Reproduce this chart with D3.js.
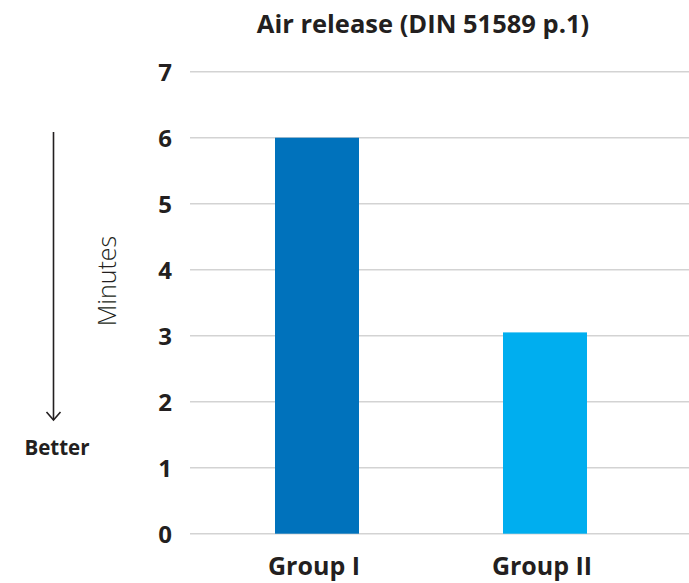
<!DOCTYPE html>
<html>
<head>
<meta charset="utf-8">
<script src="https://cdn.jsdelivr.net/npm/d3@7"></script>
<style>
  html, body { margin: 0; padding: 0; background: #fff; }
  svg { display: block; font-family: "Open Sans", Lato, sans-serif; }
</style>
</head>
<body>
<svg id="chart" width="689" height="583"></svg>
<script>
// Air release test results, minutes (DIN 51589 part 1)
const categories = ["Group I", "Group II"];
const values = [6.0, 3.05];
const barColors = ["#0072bc", "#00aeef"];
const yTicks = [0, 1, 2, 3, 4, 5, 6, 7];
const title = "Air release (DIN 51589 p.1)";
const yLabel = "Minutes";
const direction = "Better";

const W = 689, H = 583;
const plot = { left: 190, right: 689, top: 71.7, bottom: 533.7 };
const ink = "#231f20";
const font = "'Open Sans', Lato, sans-serif";

const svg = d3.select("#chart");

const y = d3.scaleLinear().domain([0, 7]).range([plot.bottom, plot.top]);
const x = d3.scaleBand()
  .domain(categories)
  .range([plot.left, 672])
  .paddingInner(0.6316)
  .paddingOuter(0.3728);

// horizontal gridlines
svg.append("g")
  .selectAll("line")
  .data(yTicks)
  .join("line")
  .attr("x1", plot.left)
  .attr("x2", plot.right)
  .attr("y1", d => y(d))
  .attr("y2", d => y(d))
  .attr("stroke", "#d3d3d3")
  .attr("stroke-width", 1.6);

// y axis labels
const yAxis = d3.axisLeft(y).tickValues(yTicks).tickFormat(d3.format("d")).tickSize(0).tickPadding(0);
svg.append("g")
  .attr("transform", `translate(172,0)`)
  .call(yAxis)
  .call(g => g.select(".domain").remove())
  .call(g => g.selectAll("text")
    .attr("fill", ink)
    .attr("font-family", font)
    .attr("font-weight", 700)
    .attr("font-size", 24)
    .attr("dy", "0.36em"));

// bars
svg.append("g")
  .selectAll("rect")
  .data(categories)
  .join("rect")
  .attr("x", d => x(d))
  .attr("width", x.bandwidth())
  .attr("y", (d, i) => y(values[i]))
  .attr("height", (d, i) => y(0) - y(values[i]))
  .attr("fill", (d, i) => barColors[i]);

// category labels
const xAxis = d3.axisBottom(x).tickSize(0).tickPadding(0);
svg.append("g")
  .attr("transform", `translate(0,${plot.bottom})`)
  .call(xAxis)
  .call(g => g.select(".domain").remove())
  .call(g => g.selectAll("text")
    .attr("fill", ink)
    .attr("font-family", font)
    .attr("font-weight", 700)
    .attr("font-size", 25)
    .attr("dy", null)
    .attr("dx", -3)
    .attr("y", 41.5));

// title
svg.append("text")
  .attr("x", 423)
  .attr("y", 33)
  .attr("text-anchor", "middle")
  .attr("fill", ink)
  .attr("font-weight", 700)
  .attr("font-size", 25.5)
  .text(title);

// y axis title
svg.append("text")
  .attr("transform", `translate(116,281) rotate(-90)`)
  .attr("text-anchor", "middle")
  .attr("fill", ink)
  .attr("font-weight", 300)
  .attr("font-size", 25)
  .text(yLabel);

// "lower is better" arrow
const arrowX = 53.5, arrowTop = 132, arrowBottom = 420;
svg.append("line")
  .attr("x1", arrowX).attr("x2", arrowX)
  .attr("y1", arrowTop).attr("y2", arrowBottom)
  .attr("stroke", ink)
  .attr("stroke-width", 1.6);
svg.append("path")
  .attr("d", d3.line()([[arrowX - 7, arrowBottom - 8], [arrowX, arrowBottom], [arrowX + 7, arrowBottom - 8]]))
  .attr("fill", "none")
  .attr("stroke", ink)
  .attr("stroke-width", 1.6);

svg.append("text")
  .attr("x", 57)
  .attr("y", 455)
  .attr("text-anchor", "middle")
  .attr("fill", ink)
  .attr("font-weight", 700)
  .attr("font-size", 20.5)
  .text(direction);
</script>
</body>
</html>
